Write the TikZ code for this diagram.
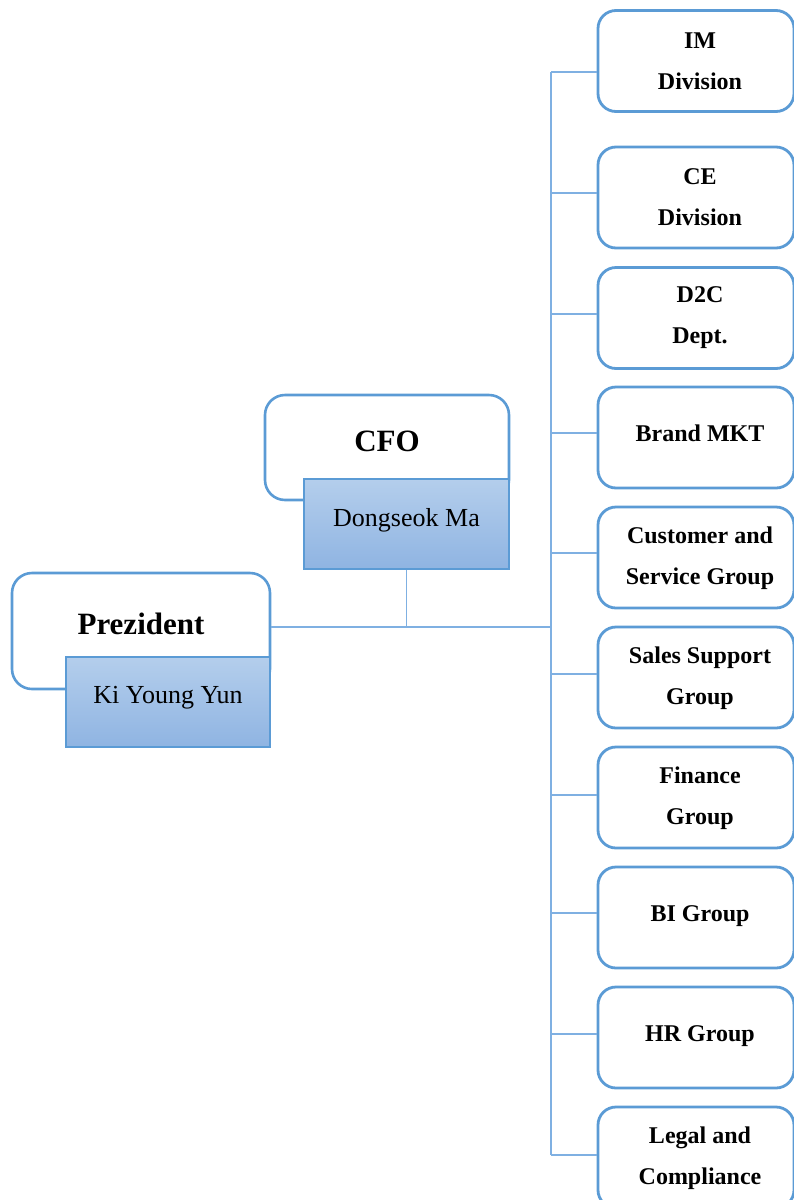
\documentclass[tikz,border=0pt]{standalone}
\usepackage{fontspec}
\setmainfont{Liberation Serif}
\definecolor{edgeblue}{HTML}{5B9BD5}
\definecolor{wireblue}{HTML}{7FB0E2}
\definecolor{fillTop}{HTML}{B4CEEC}
\definecolor{fillBot}{HTML}{8FB4E2}
\tikzset{
  headbox/.style={draw=edgeblue, line width=2.6pt, rounded corners=20pt, fill=white, inner sep=0pt},
  namebox/.style={draw=edgeblue, line width=1.4pt, top color=fillTop, bottom color=fillBot, inner sep=0pt},
  unitbox/.style={draw=edgeblue, line width=2.8pt, rounded corners=18pt, fill=white,
                  minimum width=196pt, minimum height=101pt, inner sep=0pt},
  headtext/.style={font=\fontsize{31}{36}\selectfont\bfseries},
  nametext/.style={font=\fontsize{26}{30}\selectfont},
  unittext/.style={font=\fontsize{24}{41}\selectfont\bfseries, align=center, inner sep=0pt},
  wire/.style={draw=wireblue, line width=1.6pt}
}
\newcommand{\unit}[5]{% name, y of centre, y of wire, vertical text offset, text
  \node[unitbox] (#1) at (696,-#2) {};
  \node[unittext] (#1t) at ([xshift=4pt,yshift=#4pt]#1.center) {#5};
  \coordinate (#1w) at (551,-#3);
  \draw[wire] (#1w) -- (#1w -| #1.west);
}
\begin{document}
\begin{tikzpicture}[x=1pt,y=1pt]
\useasboundingbox (0,0) rectangle (793,-1200);

% trunk connecting the president and the CFO to the spine
\coordinate (hub) at (551,-627);

% President
\node[headbox, minimum width=258pt, minimum height=116pt] (pres) at (141,-631) {};
\node[headtext] (prest) at (141,-624) {Prezident};
\node[namebox, minimum width=204pt, minimum height=90pt] (presn) at (168,-702) {};
\node[nametext] (presnt) at (168,-698) {Ki Young Yun};

% CFO
\node[headbox, minimum width=244pt, minimum height=105pt] (cfo) at (387,-447.5) {};
\node[headtext] (cfot) at (387,-441) {CFO};
\node[namebox, minimum width=205pt, minimum height=90pt] (cfon) at (406.5,-524) {};
\node[nametext] (cfont) at (406.5,-520) {Dongseok Ma};

\draw[wire] (pres.east |- hub) -- (hub);
\draw[wire] (cfon.south) -- (cfon.south |- hub);

% units reporting along the spine
\unit{u1}{61}{72}{0}{IM\\Division}
\unit{u2}{197.5}{193}{0}{CE\\Division}
\unit{u3}{318}{314}{0}{D2C\\Dept.}
\unit{u4}{437.5}{433}{4}{Brand MKT}
\unit{u5}{557.5}{553}{-1}{Customer and\\Service Group}
\unit{u6}{677.5}{674}{-1}{Sales Support\\Group}
\unit{u7}{797.5}{795}{-1}{Finance\\Group}
\unit{u8}{917.5}{913}{1.5}{BI Group}
\unit{u9}{1037.5}{1034}{1.5}{HR Group}
\unit{u10}{1157.5}{1155}{-1}{Legal and\\Compliance}

% spine
\draw[wire] (u1w) -- (u10w);
\end{tikzpicture}
\end{document}
